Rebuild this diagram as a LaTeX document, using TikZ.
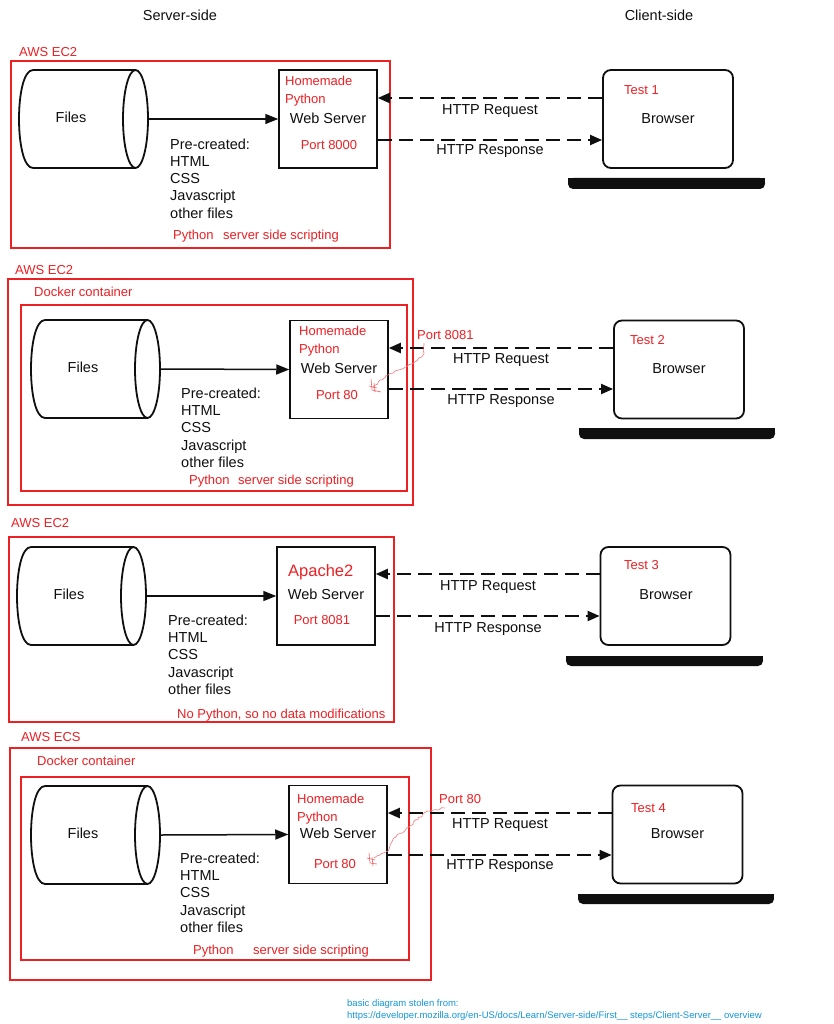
\documentclass[tikz,border=0pt]{standalone}
\usepackage{fontspec}
\setmainfont{Liberation Sans}
\usetikzlibrary{arrows.meta,decorations.pathmorphing,calc}
\definecolor{awsred}{RGB}{237,32,36}
\definecolor{ink}{RGB}{15,15,15}
\definecolor{linkblue}{RGB}{20,150,220}
\tikzset{
  boxline/.style={line width=1.8pt, draw=ink},
  srv/.style={draw=ink, line width=1.5pt, minimum width=98pt, minimum height=98pt, inner sep=0pt},
  brw/.style={draw=ink, line width=1.8pt, rounded corners=8pt, minimum width=130pt, minimum height=98pt, inner sep=0pt},
  redbox/.style={draw=awsred, line width=2pt},
  btxt/.style={inner sep=0pt, text height=0.72em, text depth=0pt, text=ink, yshift=-1.5pt, font=\fontsize{14.5}{17}\selectfont},
  rtxt/.style={inner sep=0pt, text height=0.72em, text depth=0pt, text=awsred, yshift=-1.5pt, font=\fontsize{13}{16}\selectfont},
  bigrtxt/.style={inner sep=0pt, text height=0.72em, text depth=0pt, text=awsred, yshift=-1.5pt, font=\fontsize{16.5}{19}\selectfont},
  foot/.style={inner sep=0pt, text height=0.72em, text depth=0pt, text=linkblue, yshift=-1pt, font=\fontsize{9.5}{11}\selectfont, anchor=west},
  solidarr/.style={line width=1.5pt, draw=ink, -{Triangle[length=13pt,width=10pt]}},
  dasharr/.style={line width=2pt, draw=ink, dash pattern=on 14pt off 7pt, -{Triangle[length=12pt,width=10pt]}},
  squig/.style={draw=awsred!60, line width=0.6pt, decorate, decoration={random steps, segment length=2.5pt, amplitude=1pt}},
  scrib/.style={draw=awsred!70, line width=0.6pt},
}
% cylinder: name, left x, top y
\newcommand\filecyl[3]{%
  \node[inner sep=0pt, minimum width=129pt, minimum height=98pt] (#1) at ({#2+64.5},{#3+49}) {};
  \draw[boxline] ({#2+14},#3) -- ({#2+116.5},#3) ({#2+14},{#3+98}) -- ({#2+116.5},{#3+98})
    ({#2+14},#3) .. controls ({#2+14-18.667},#3) and ({#2+14-18.667},{#3+98}) .. ({#2+14},{#3+98});
  \draw[boxline] ({#2+116.5},{#3+49}) ellipse [x radius=12.5, y radius=49];
  \node[btxt] (#1-label) at ({#2+52},{#3+47}) {Files};
}
% pre-created list: prefix, x, first y
\newcommand\precreated[3]{%
  \foreach \t [count=\i from 0] in {Pre-created:,HTML,CSS,Javascript,other files}
    \node[btxt,anchor=west] (#1-\i) at (#2,{#3+17.3*\i}) {\t};
}
% laptop base: x1, y1, x2, y2
\newcommand\laptopbase[4]{%
  \fill[ink, rounded corners=5pt] (#1,#2) rectangle (#3,#4);
  \fill[ink] (#1,#2) rectangle (#3,{#2+5});
}
\begin{document}
\begin{tikzpicture}[x=1pt,y=-1pt]
\pgfmathsetseed{7}
\useasboundingbox (0,0) rectangle (834,1024);
\fill[white] (0,0) rectangle (834,1024);

\node[btxt] (hs) at (180,15) {Server-side};
\node[btxt] (hc) at (659,15) {Client-side};

% ---------------- Panel 1
\draw[redbox] (11,61) rectangle (390,248);
\node[rtxt,anchor=west] (aws1) at (19,51) {AWS EC2};
\filecyl{f1}{19}{70}
\node[srv] (s1) at (328,119) {};
\node[rtxt,anchor=west] (hm1) at (285,80) {Homemade};
\node[rtxt,anchor=west] (py1) at (285,98) {Python};
\node[btxt] (ws1) at (328,118) {Web Server};
\node[rtxt] (pt1) at (329,144) {Port 8000};
\precreated{pc1}{170}{144}
\node[rtxt,anchor=west] (sp1) at (173,234) {Python};
\node[rtxt,anchor=west] (ss1) at (223,234) {server side scripting};
\node[brw] (b1) at (668,119) {};
\node[rtxt,anchor=west] (t1) at (624,89) {Test 1};
\node[btxt] (bl1) at (668,118) {Browser};
\laptopbase{568}{178}{765}{189}
\draw[solidarr] (f1.east) -- (s1.west);
\draw[dasharr] ([yshift=21pt]b1.west) -- ([yshift=21pt]s1.east);
\draw[dasharr] ([yshift=-21pt]s1.east) -- ([yshift=-21pt]b1.west);
\node[btxt] (rq1) at (490,109) {HTTP Request};
\node[btxt] (rs1) at (490,149) {HTTP Response};

% ---------------- Panel 2
\draw[redbox] (8,279) rectangle (413,505);
\draw[redbox] (21,305) rectangle (407,491);
\node[rtxt,anchor=west] (aws2) at (15,269) {AWS EC2};
\node[rtxt,anchor=west] (dk2) at (34,291) {Docker container};
\filecyl{f2}{31}{320}
\node[srv] (s2) at (339,369.5) {};
\node[rtxt,anchor=west] (hm2) at (299,330) {Homemade};
\node[rtxt,anchor=west] (py2) at (299,348) {Python};
\node[btxt] (ws2) at (339,368) {Web Server};
\node[rtxt] (pt2) at (337,394) {Port 80};
\precreated{pc2}{181}{393}
\node[rtxt,anchor=west] (sp2) at (189,479) {Python};
\node[rtxt,anchor=west] (ss2) at (238,479) {server side scripting};
\node[rtxt,anchor=west] (px2) at (417,334) {Port 8081};
\node[brw] (b2) at (679,369.5) {};
\node[rtxt,anchor=west] (t2) at (630,339) {Test 2};
\node[btxt] (bl2) at (679,368) {Browser};
\laptopbase{579}{428}{775}{439}
\draw[solidarr] (f2.east) -- (s2.west);
\draw[dasharr] ([yshift=21.5pt]b2.west) -- ([yshift=21.5pt]s2.east);
\draw[dasharr] ([yshift=-19.5pt]s2.east) -- ([yshift=-19.5pt]b2.west);
\node[btxt] (rq2) at (501,358) {HTTP Request};
\node[btxt] (rs2) at (501,399) {HTTP Response};
\coordinate (q2a) at (424,343);
\coordinate (q2b) at (373,388);
\draw[squig] (q2a) -- (423,355) -- (412,364) -- (395,371) -- (380,380) -- (q2b);
\draw[scrib] (371,379) -- (372,390) -- (381,392) (369,386) -- (377,388) (374,383) -- (375,392);

% ---------------- Panel 3
\draw[redbox] (9,537) rectangle (394,722);
\node[rtxt,anchor=west] (aws3) at (11,522) {AWS EC2};
\filecyl{f3}{17}{547}
\node[srv] (s3) at (326,596) {};
\node[bigrtxt,anchor=west] (ap3) at (288,571) {Apache2};
\node[btxt] (ws3) at (326,594) {Web Server};
\node[rtxt] (pt3) at (322,619) {Port 8081};
\precreated{pc3}{168}{620}
\node[rtxt,anchor=west] (np3) at (177,713) {No Python, so no data modifications};
\node[brw] (b3) at (665.5,596) {};
\node[rtxt,anchor=west] (t3) at (624,564) {Test 3};
\node[btxt] (bl3) at (666,594) {Browser};
\laptopbase{566}{656}{763}{666}
\draw[solidarr] (f3.east) -- (s3.west);
\draw[dasharr] ([yshift=22pt]b3.west) -- ([yshift=22pt]s3.east);
\draw[dasharr] ([yshift=-20pt]s3.east) -- ([yshift=-20pt]b3.west);
\node[btxt] (rq3) at (488,585) {HTTP Request};
\node[btxt] (rs3) at (488,627) {HTTP Response};

% ---------------- Panel 4
\draw[redbox] (10,748) rectangle (431,980);
\draw[redbox] (21,777) rectangle (409,960);
\node[rtxt,anchor=west] (aws4) at (21,736) {AWS ECS};
\node[rtxt,anchor=west] (dk4) at (37,760) {Docker container};
\filecyl{f4}{31}{786}
\node[srv] (s4) at (338,834.5) {};
\node[rtxt,anchor=west] (hm4) at (297,798) {Homemade};
\node[rtxt,anchor=west] (py4) at (297,816) {Python};
\node[btxt] (ws4) at (338,833) {Web Server};
\node[rtxt] (pt4) at (335,863) {Port 80};
\precreated{pc4}{180}{858}
\node[rtxt,anchor=west] (sp4) at (193,949) {Python};
\node[rtxt,anchor=west] (ss4) at (253,949) {server side scripting};
\node[rtxt,anchor=west] (px4) at (439,798) {Port 80};
\node[brw] (b4) at (677.5,834.5) {};
\node[rtxt,anchor=west] (t4) at (631,807) {Test 4};
\node[btxt] (bl4) at (677.5,833) {Browser};
\laptopbase{578}{894}{774}{904}
\draw[solidarr] (f4.east) -- (s4.west);
\draw[dasharr] ([yshift=21.5pt]b4.west) -- ([yshift=21.5pt]s4.east);
\draw[dasharr] ([yshift=-20.5pt]s4.east) -- ([yshift=-20.5pt]b4.west);
\node[btxt] (rq4) at (500,823) {HTTP Request};
\node[btxt] (rs4) at (500,864) {HTTP Response};
\coordinate (q4a) at (445,808);
\coordinate (q4b) at (374,858);
\draw[squig] (q4a) -- (427,811) -- (410,826) -- (394,838) -- (388,851) -- (q4b);
\draw[scrib] (369,853) -- (370,863) -- (377,864) (372,857) -- (373,866) (367,858) -- (375,860);

% ---------------- Footer
\node[foot] (ft1) at (347,1002) {basic diagram stolen from:};
\node[foot] (ft2) at (347,1014) {https://developer.mozilla.org/en-US/docs/Learn/Server-side/First\_\_ steps/Client-Server\_\_ overview};
\end{tikzpicture}
\end{document}
